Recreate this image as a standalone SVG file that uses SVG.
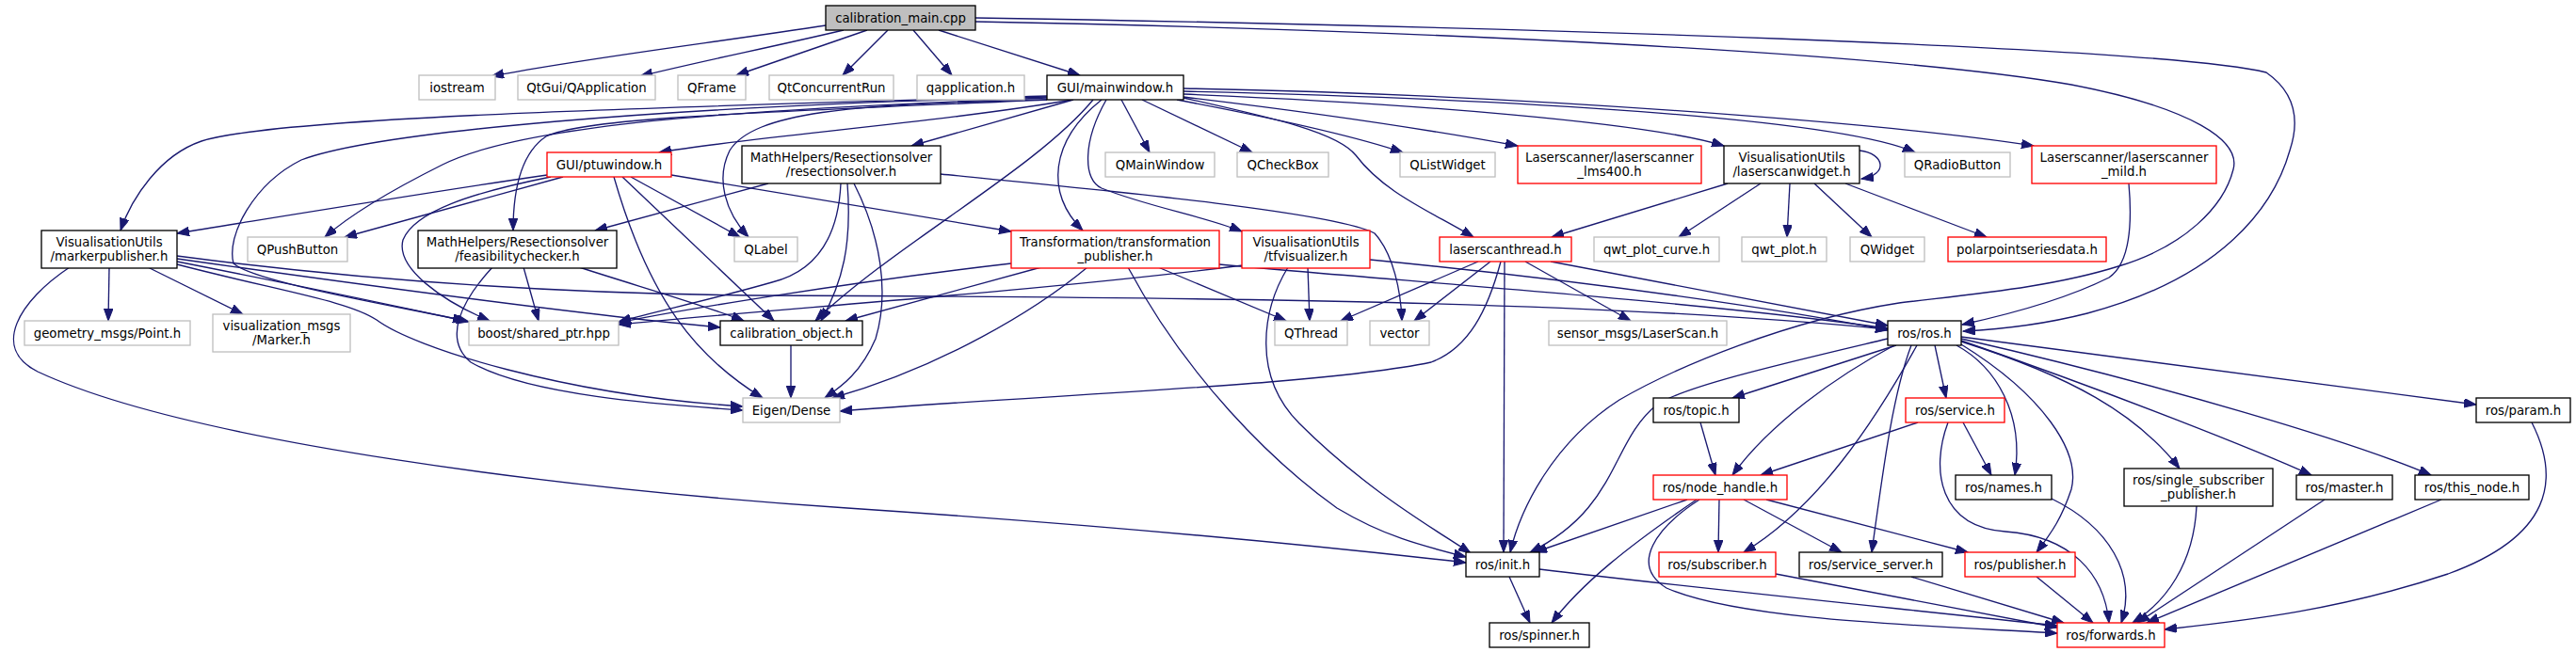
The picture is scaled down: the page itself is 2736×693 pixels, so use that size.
<svg xmlns="http://www.w3.org/2000/svg" width="2736" height="693" viewBox="0 0 2736 693">
<style>
rect{fill:#fff;stroke-width:1.33}
.blk{stroke:#000}
.gry{stroke:#bfbfbf}
.red{stroke:#ff0000}
.root{fill:#bfbfbf;stroke:#000}
text{font-family:"DejaVu Sans","Liberation Sans",sans-serif;font-size:13.3px;text-anchor:middle;fill:#000}
#edges path{fill:none;stroke:#191970;stroke-width:1.33;marker-end:url(#a)}
</style>
<defs>
<marker id="a" markerUnits="userSpaceOnUse" viewBox="0 0 14 10" markerWidth="14" markerHeight="10" refX="13" refY="4.8" orient="auto"><path d="M0,0 L13,4.8 L0,9.6 z" fill="#191970" stroke="#191970" stroke-width="1"/></marker>
</defs>
<rect x="0" y="0" width="2736" height="693" style="fill:#fff;stroke:none"/>
<g id="edges">
<path d="M877,27 C760,45 620,62 522,81"/>
<path d="M896,32 C820,50 740,66 680,81"/>
<path d="M921,32 L782,80"/>
<path d="M943,32 L895,80"/>
<path d="M970,32 L1011,80"/>
<path d="M997,32 L1147,80"/>
<path d="M1036,19 C1600,28 2300,50 2407,77 C2440,100 2442,130 2432,160 C2415,220 2360,295 2217,333 C2170,345 2125,350 2085,352"/>
<path d="M1036,23 C1500,32 2000,55 2200,90 C2330,115 2380,150 2372,180 C2362,220 2320,262 2250,283 C2180,305 2100,312 2017,322 C1900,340 1780,390 1720,425 C1650,470 1615,540 1604,587"/>
<path d="M1139,106 C1000,130 800,145 700,162"/>
<path d="M1140,106 L968,155"/>
<path d="M1191,106 L1221,162"/>
<path d="M1213,106 L1330,162"/>
<path d="M1250,106 C1350,125 1440,145 1490,162"/>
<path d="M1257,103 C1400,120 1530,140 1612,155"/>
<path d="M1257,100 C1500,110 1750,130 1831,155"/>
<path d="M1257,97 C1600,105 1950,125 2034,162"/>
<path d="M1257,94 C1600,100 2000,130 2160,155"/>
<path d="M1257,104 C1350,125 1420,140 1440,165 C1470,205 1520,225 1565,252"/>
<path d="M1112,102 C800,112 300,122 214,150 C170,165 140,210 128,245"/>
<path d="M1112,104 C800,116 560,130 470,175 C410,205 370,230 345,252"/>
<path d="M1112,106 C800,120 620,125 580,145 C550,165 545,210 545,245"/>
<path d="M1112,103 C700,113 400,140 320,170 C270,195 240,250 248,280 C270,300 420,325 494,341"/>
<path d="M1112,106 C900,110 800,120 775,160 C760,190 770,225 795,252"/>
<path d="M1161,106 C1100,180 950,260 866,341"/>
<path d="M1170,106 C1115,150 1110,205 1150,245"/>
<path d="M1175,106 C1150,150 1150,190 1170,200 C1220,220 1280,230 1319,246"/>
<path d="M581,186 C450,205 300,230 188,248"/>
<path d="M598,188 L366,252"/>
<path d="M585,188 C500,205 440,225 428,255 C420,285 470,320 520,341"/>
<path d="M652,188 C690,320 740,380 810,423"/>
<path d="M661,188 L822,341"/>
<path d="M670,188 L786,252"/>
<path d="M713,186 L1074,246"/>
<path d="M816,195 L632,245"/>
<path d="M999,185 C1150,200 1420,225 1460,248 C1480,270 1488,310 1489,341"/>
<path d="M893,195 C890,260 860,290 820,300 C750,320 700,330 657,342"/>
<path d="M900,195 C905,260 895,300 872,341"/>
<path d="M907,195 C935,250 945,310 930,360 C915,395 895,410 876,423"/>
<path d="M556,284 L572,341"/>
<path d="M615,284 C680,305 750,325 790,341"/>
<path d="M523,284 C490,320 470,360 500,385 C560,420 700,430 789,436"/>
<path d="M116,284 L115,341"/>
<path d="M157,284 L258,334"/>
<path d="M188,278 C300,300 420,325 498,342"/>
<path d="M188,275 C400,305 620,335 765,348"/>
<path d="M188,272 C400,300 600,312 800,314 C1300,316 1700,320 2005,350"/>
<path d="M188,281 C300,310 370,320 400,340 C440,370 600,420 789,432"/>
<path d="M74,284 C20,320 -10,370 40,395 C200,470 600,520 900,540 C1200,560 1400,580 1557,598"/>
<path d="M840,366 L840,423"/>
<path d="M1074,280 C900,300 720,330 657,343"/>
<path d="M1106,284 L898,341"/>
<path d="M1155,284 C1100,330 1000,390 884,423"/>
<path d="M1198,284 C1260,400 1350,490 1420,540 C1470,570 1510,580 1557,592"/>
<path d="M1230,284 L1366,341"/>
<path d="M1295,281 C1500,300 1800,320 2005,349"/>
<path d="M1389,284 L1391,341"/>
<path d="M1368,284 C1340,330 1330,400 1380,450 C1450,520 1520,560 1562,588"/>
<path d="M1320,282 C1100,310 800,330 657,345"/>
<path d="M1455,276 C1700,300 1900,330 2005,351"/>
<path d="M1570,278 L1424,341"/>
<path d="M1583,278 L1502,341"/>
<path d="M1598,278 L1597,587"/>
<path d="M1594,278 C1580,330 1560,370 1520,385 C1400,410 1100,420 892,437"/>
<path d="M1620,278 L1732,341"/>
<path d="M1647,278 L2005,346"/>
<path d="M1975,160 C2002,163 2006,186 1977,190"/>
<path d="M1835,195 L1648,252"/>
<path d="M1870,195 L1783,252"/>
<path d="M1901,195 L1898,252"/>
<path d="M1927,195 L1988,252"/>
<path d="M1960,195 L2110,252"/>
<path d="M2261,195 C2265,240 2262,280 2240,295 C2190,320 2130,335 2084,345"/>
<path d="M2005,360 C1900,385 1790,410 1760,430 C1710,470 1720,540 1625,587"/>
<path d="M2014,367 L1840,423"/>
<path d="M2012,367 C1950,400 1880,450 1840,505"/>
<path d="M2036,367 C1990,450 1930,540 1852,587"/>
<path d="M2030,367 C2010,420 2000,500 1988,587"/>
<path d="M2055,367 L2067,423"/>
<path d="M2078,367 C2120,390 2150,440 2140,505"/>
<path d="M2083,366 C2170,420 2210,480 2200,520 C2190,550 2180,565 2163,587"/>
<path d="M2083,363 C2200,400 2270,440 2315,498"/>
<path d="M2083,362 C2250,420 2400,480 2455,505"/>
<path d="M2083,360 C2300,410 2500,470 2582,505"/>
<path d="M2083,358 L2630,430"/>
<path d="M2037,449 L1870,505"/>
<path d="M2085,449 L2115,505"/>
<path d="M2069,449 C2050,500 2060,560 2130,565 C2200,570 2235,610 2240,662"/>
<path d="M1806,449 L1822,505"/>
<path d="M1792,531 L1630,587"/>
<path d="M1802,531 C1730,580 1680,620 1648,662"/>
<path d="M1826,531 L1825,587"/>
<path d="M1852,531 L1956,587"/>
<path d="M1876,531 L2090,587"/>
<path d="M1805,531 C1760,560 1730,600 1770,625 C1850,660 2050,665 2185,673"/>
<path d="M1603,613 L1625,662"/>
<path d="M1635,605 C1800,625 2000,645 2185,665"/>
<path d="M1886,610 L2185,667"/>
<path d="M2030,613 L2192,662"/>
<path d="M2163,613 L2223,662"/>
<path d="M2179,530 C2240,560 2270,610 2253,662"/>
<path d="M2333,538 C2330,600 2300,640 2265,662"/>
<path d="M2469,531 L2270,662"/>
<path d="M2593,531 L2280,662"/>
<path d="M2689,449 C2720,510 2710,570 2600,610 C2480,650 2380,660 2299,669"/>
</g>
<g id="n1"><rect x="877" y="6" width="159" height="26" class="root"/><text x="956.5" y="23.5">calibration_main.cpp</text></g>
<g id="n2"><rect x="445" y="80" width="81" height="26" class="gry"/><text x="485.5" y="97.5">iostream</text></g>
<g id="n3"><rect x="550" y="80" width="146" height="26" class="gry"/><text x="623" y="97.5">QtGui/QApplication</text></g>
<g id="n4"><rect x="720" y="80" width="72" height="26" class="gry"/><text x="756" y="97.5">QFrame</text></g>
<g id="n5"><rect x="817" y="80" width="132" height="26" class="gry"/><text x="883" y="97.5">QtConcurrentRun</text></g>
<g id="n6"><rect x="974" y="80" width="114" height="26" class="gry"/><text x="1031" y="97.5">qapplication.h</text></g>
<g id="n7"><rect x="1112" y="80" width="145" height="26" class="blk"/><text x="1184.5" y="97.5">GUI/mainwindow.h</text></g>
<g id="n8"><rect x="581" y="162" width="132" height="26" class="red"/><text x="647" y="179.5">GUI/ptuwindow.h</text></g>
<g id="n9"><rect x="788" y="155" width="211" height="40" class="blk"/><text x="893.5" y="171.5">MathHelpers/Resectionsolver</text><text x="893.5" y="186.5">/resectionsolver.h</text></g>
<g id="n10"><rect x="1174" y="162" width="116" height="26" class="gry"/><text x="1232" y="179.5">QMainWindow</text></g>
<g id="n11"><rect x="1314" y="162" width="97" height="26" class="gry"/><text x="1362.5" y="179.5">QCheckBox</text></g>
<g id="n12"><rect x="1487" y="162" width="101" height="26" class="gry"/><text x="1537.5" y="179.5">QListWidget</text></g>
<g id="n13"><rect x="1612" y="155" width="195" height="40" class="red"/><text x="1709.5" y="171.5">Laserscanner/laserscanner</text><text x="1709.5" y="186.5">_lms400.h</text></g>
<g id="n14"><rect x="1831" y="155" width="144" height="40" class="blk"/><text x="1903" y="171.5">VisualisationUtils</text><text x="1903" y="186.5">/laserscanwidget.h</text></g>
<g id="n15"><rect x="2023" y="162" width="112" height="26" class="gry"/><text x="2079" y="179.5">QRadioButton</text></g>
<g id="n16"><rect x="2158" y="155" width="196" height="40" class="red"/><text x="2256" y="171.5">Laserscanner/laserscanner</text><text x="2256" y="186.5">_mild.h</text></g>
<g id="n17"><rect x="44" y="245" width="144" height="40" class="blk"/><text x="116" y="261.5">VisualisationUtils</text><text x="116" y="276.5">/markerpublisher.h</text></g>
<g id="n18"><rect x="263" y="252" width="106" height="26" class="gry"/><text x="316" y="269.5">QPushButton</text></g>
<g id="n19"><rect x="444" y="245" width="211" height="40" class="blk"/><text x="549.5" y="261.5">MathHelpers/Resectionsolver</text><text x="549.5" y="276.5">/feasibilitychecker.h</text></g>
<g id="n20"><rect x="780" y="252" width="67" height="26" class="gry"/><text x="813.5" y="269.5">QLabel</text></g>
<g id="n21"><rect x="1074" y="245" width="221" height="40" class="red"/><text x="1184.5" y="261.5">Transformation/transformation</text><text x="1184.5" y="276.5">_publisher.h</text></g>
<g id="n22"><rect x="1319" y="245" width="136" height="40" class="red"/><text x="1387" y="261.5">VisualisationUtils</text><text x="1387" y="276.5">/tfvisualizer.h</text></g>
<g id="n23"><rect x="1529" y="252" width="140" height="26" class="red"/><text x="1599" y="269.5">laserscanthread.h</text></g>
<g id="n24"><rect x="1693" y="252" width="133" height="26" class="gry"/><text x="1759.5" y="269.5">qwt_plot_curve.h</text></g>
<g id="n25"><rect x="1850" y="252" width="90" height="26" class="gry"/><text x="1895" y="269.5">qwt_plot.h</text></g>
<g id="n26"><rect x="1965" y="252" width="79" height="26" class="gry"/><text x="2004.5" y="269.5">QWidget</text></g>
<g id="n27"><rect x="2069" y="252" width="168" height="26" class="red"/><text x="2153" y="269.5">polarpointseriesdata.h</text></g>
<g id="n28"><rect x="26" y="341" width="176" height="26" class="gry"/><text x="114" y="358.5">geometry_msgs/Point.h</text></g>
<g id="n29"><rect x="226" y="334" width="146" height="40" class="gry"/><text x="299" y="350.5">visualization_msgs</text><text x="299" y="365.5">/Marker.h</text></g>
<g id="n30"><rect x="498" y="341" width="159" height="26" class="gry"/><text x="577.5" y="358.5">boost/shared_ptr.hpp</text></g>
<g id="n31"><rect x="765" y="341" width="151" height="26" class="blk"/><text x="840.5" y="358.5">calibration_object.h</text></g>
<g id="n32"><rect x="1354" y="341" width="77" height="26" class="gry"/><text x="1392.5" y="358.5">QThread</text></g>
<g id="n33"><rect x="1455" y="341" width="63" height="26" class="gry"/><text x="1486.5" y="358.5">vector</text></g>
<g id="n34"><rect x="1645" y="341" width="189" height="26" class="gry"/><text x="1739.5" y="358.5">sensor_msgs/LaserScan.h</text></g>
<g id="n35"><rect x="2005" y="341" width="78" height="26" class="blk"/><text x="2044" y="358.5">ros/ros.h</text></g>
<g id="n36"><rect x="789" y="423" width="103" height="26" class="gry"/><text x="840.5" y="440.5">Eigen/Dense</text></g>
<g id="n37"><rect x="1756" y="423" width="91" height="26" class="blk"/><text x="1801.5" y="440.5">ros/topic.h</text></g>
<g id="n38"><rect x="2024" y="423" width="105" height="26" class="red"/><text x="2076.5" y="440.5">ros/service.h</text></g>
<g id="n39"><rect x="2630" y="423" width="100" height="26" class="blk"/><text x="2680" y="440.5">ros/param.h</text></g>
<g id="n40"><rect x="1756" y="505" width="142" height="26" class="red"/><text x="1827" y="522.5">ros/node_handle.h</text></g>
<g id="n41"><rect x="2077" y="505" width="102" height="26" class="blk"/><text x="2128" y="522.5">ros/names.h</text></g>
<g id="n42"><rect x="2256" y="498" width="158" height="40" class="blk"/><text x="2335" y="514.5">ros/single_subscriber</text><text x="2335" y="529.5">_publisher.h</text></g>
<g id="n43"><rect x="2439" y="505" width="102" height="26" class="blk"/><text x="2490" y="522.5">ros/master.h</text></g>
<g id="n44"><rect x="2565" y="505" width="121" height="26" class="blk"/><text x="2625.5" y="522.5">ros/this_node.h</text></g>
<g id="n45"><rect x="1557" y="587" width="78" height="26" class="blk"/><text x="1596" y="604.5">ros/init.h</text></g>
<g id="n46"><rect x="1762" y="587" width="124" height="26" class="red"/><text x="1824" y="604.5">ros/subscriber.h</text></g>
<g id="n47"><rect x="1911" y="587" width="152" height="26" class="blk"/><text x="1987" y="604.5">ros/service_server.h</text></g>
<g id="n48"><rect x="2087" y="587" width="117" height="26" class="red"/><text x="2145.5" y="604.5">ros/publisher.h</text></g>
<g id="n49"><rect x="1582" y="662" width="106" height="26" class="blk"/><text x="1635" y="679.5">ros/spinner.h</text></g>
<g id="n50"><rect x="2185" y="662" width="114" height="26" class="red"/><text x="2242" y="679.5">ros/forwards.h</text></g>
</svg>
